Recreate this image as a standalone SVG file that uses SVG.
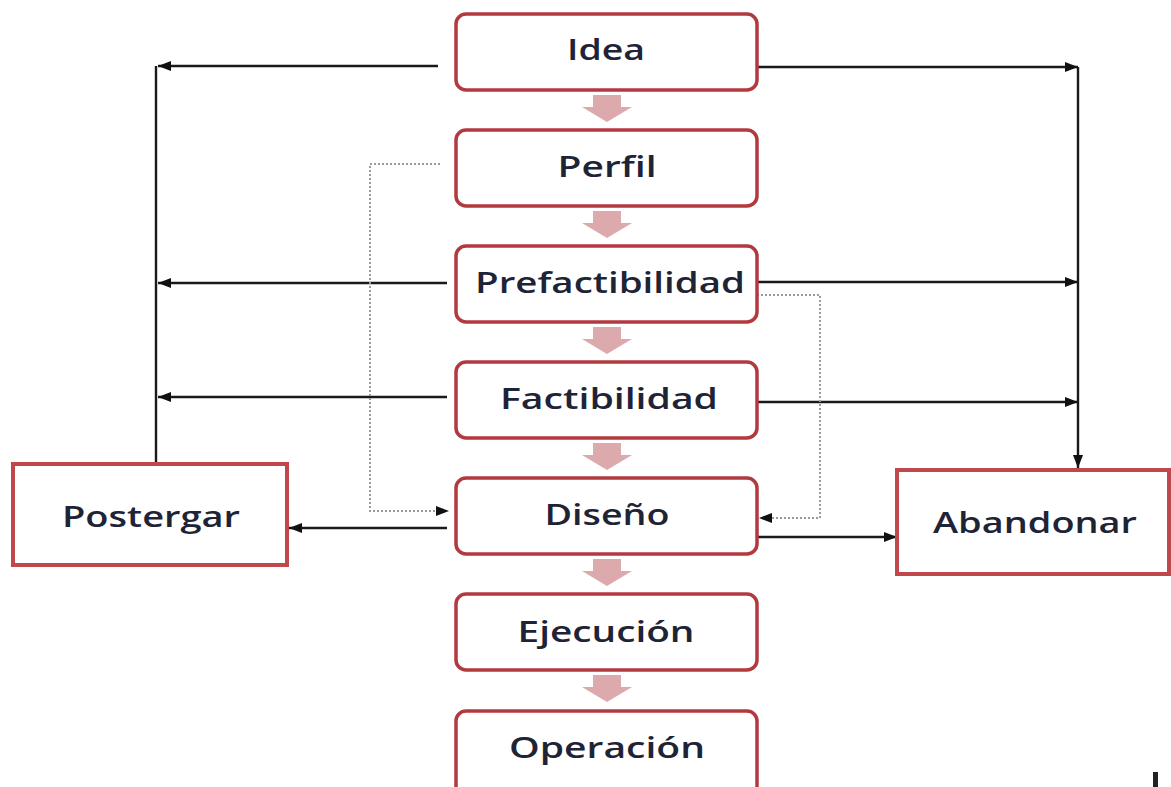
<svg xmlns="http://www.w3.org/2000/svg" width="1171" height="787" viewBox="0 0 1171 787">
  <defs>
    <style>
      .stage { fill: #ffffff; stroke: #b23a3f; stroke-width: 3.5; }
      .side { fill: #ffffff; stroke: #c0474b; stroke-width: 4; }
      .label { font-family: "Open Sans", "DejaVu Sans", sans-serif; font-size: 29px; font-weight: 600; fill: #1e2436; text-anchor: middle; }
      .link { fill: none; stroke: #1a1a1a; stroke-width: 2.4; }
      .dot { fill: none; stroke: #9a9a9a; stroke-width: 2; stroke-dasharray: 2 2; }
      .flow { fill: #dca9ac; }
    </style>
    <marker id="head" markerUnits="userSpaceOnUse" markerWidth="14" markerHeight="12" refX="13" refY="5" orient="auto">
      <path d="M0,0 L13,5 L0,10 z" fill="#111"/>
    </marker>
    <!-- block arrow between consecutive stages -->
    <path id="step" class="flow" d="M-14,0 H14 V12 H25 L0,27 L-25,12 H-14 z"/>
  </defs>

  <rect width="1171" height="787" fill="#ffffff"/>

  <!-- connectors -->
  <g id="connectors">
    <!-- left bus to Postergar -->
    <path class="link" d="M156,464 V66"/>
    <path class="link" d="M438,66 H158" marker-end="url(#head)"/>
    <path class="link" d="M447,283 H158" marker-end="url(#head)"/>
    <path class="link" d="M447,397 H158" marker-end="url(#head)"/>
    <path class="link" d="M447,528 H289" marker-end="url(#head)"/>
    <!-- right bus to Abandonar -->
    <path class="link" d="M757,67 H1078" marker-end="url(#head)"/>
    <path class="link" d="M757,282 H1078" marker-end="url(#head)"/>
    <path class="link" d="M757,402 H1078" marker-end="url(#head)"/>
    <path class="link" d="M1078,67 V468" marker-end="url(#head)"/>
    <path class="link" d="M757,537 H897" marker-end="url(#head)"/>
    <!-- dotted shortcuts into Diseño -->
    <path class="dot" d="M440,164 H370 V511 H436"/>
    <path d="M436,506 L449,511 L436,516 z" fill="#111"/>
    <path class="dot" d="M757,295 H820 V518 H772"/>
    <path d="M772,513 L759,518 L772,523 z" fill="#111"/>
    <!-- stage-to-stage block arrows -->
    <use href="#step" x="607" y="95"/>
    <use href="#step" x="607" y="211"/>
    <use href="#step" x="607" y="327"/>
    <use href="#step" x="607" y="443"/>
    <use href="#step" x="607" y="559"/>
    <use href="#step" x="607" y="675"/>
  </g>

  <g id="idea">
    <rect class="stage" x="456" y="14" width="301" height="76" rx="10"/>
    <text class="label" x="606" y="60" textLength="78" lengthAdjust="spacingAndGlyphs">Idea</text>
  </g>
  <g id="perfil">
    <rect class="stage" x="456" y="130" width="301" height="76" rx="10"/>
    <text class="label" x="607" y="177" textLength="99" lengthAdjust="spacingAndGlyphs">Perfil</text>
  </g>
  <g id="prefactibilidad">
    <rect class="stage" x="456" y="246" width="301" height="76" rx="10"/>
    <text class="label" x="610" y="293" textLength="270" lengthAdjust="spacingAndGlyphs">Prefactibilidad</text>
  </g>
  <g id="factibilidad">
    <rect class="stage" x="456" y="362" width="301" height="76" rx="10"/>
    <text class="label" x="609" y="409" textLength="218" lengthAdjust="spacingAndGlyphs">Factibilidad</text>
  </g>
  <g id="diseno">
    <rect class="stage" x="456" y="478" width="301" height="76" rx="10"/>
    <text class="label" x="607" y="525" textLength="125" lengthAdjust="spacingAndGlyphs">Diseño</text>
  </g>
  <g id="ejecucion">
    <rect class="stage" x="456" y="594" width="301" height="76" rx="10"/>
    <text class="label" x="606" y="642" textLength="177" lengthAdjust="spacingAndGlyphs">Ejecución</text>
  </g>
  <g id="operacion">
    <rect class="stage" x="456" y="711" width="301" height="90" rx="10"/>
    <text class="label" x="607" y="758" textLength="196" lengthAdjust="spacingAndGlyphs">Operación</text>
  </g>
  <g id="postergar">
    <rect class="side" x="13" y="464" width="274" height="101"/>
    <text class="label" x="151" y="527" textLength="178" lengthAdjust="spacingAndGlyphs">Postergar</text>
  </g>
  <g id="abandonar">
    <rect class="side" x="897" y="470" width="272" height="104"/>
    <text class="label" x="1035" y="533" textLength="204" lengthAdjust="spacingAndGlyphs">Abandonar</text>
  </g>

  <!-- stray mark at the lower right edge -->
  <rect x="1153" y="772" width="5" height="15" fill="#222"/>
</svg>
